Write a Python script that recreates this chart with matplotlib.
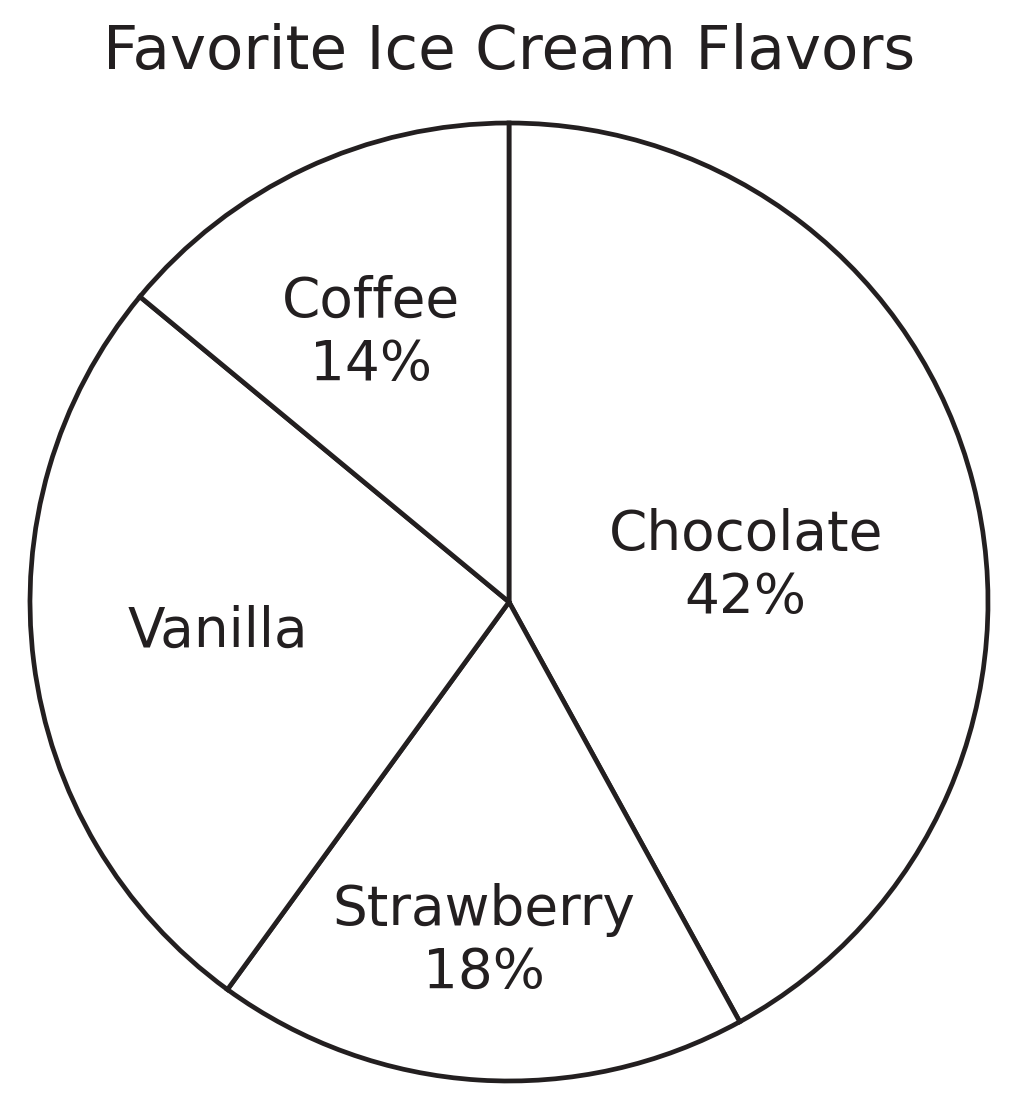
import numpy as np
import matplotlib
matplotlib.use("Agg")
import matplotlib.pyplot as plt

# 円グラフのデータ（時計回り、12時から）
flavors = ["Chocolate", "Strawberry", "Vanilla", "Coffee"]
shares = [42, 18, 26, 14]
show_pct = [True, True, False, True]

# ラベルの中心距離（半径比）と角度補正 [deg]
label_dist = [0.50, 0.71, 0.61, 0.63]
label_shift = [-5.8, -0.6, -1.3, 2.1]

plt.rcParams["font.family"] = ["DejaVu Sans"]

fig = plt.figure(figsize=(10.12, 11.06), dpi=100)
ax = fig.add_axes([0.0, 0.0, 1.0, 1.0])

wedges, _ = ax.pie(
    shares,
    startangle=90,
    counterclock=False,
    colors=["white"] * len(shares),
    wedgeprops=dict(edgecolor="#231f20", linewidth=3.4),
    radius=1.0,
    center=(0.0, 0.0),
)

for w, name, pct, flag, d, s in zip(wedges, flavors, shares, show_pct, label_dist, label_shift):
    mid = np.deg2rad((w.theta1 + w.theta2) / 2 + s)
    x, y = d * np.cos(mid), d * np.sin(mid)
    txt = f"{name}\n{pct}%" if flag else name
    ax.text(x, y, txt, ha="center", va="center", fontsize=39.5,
            color="#231f20", linespacing=1.22)

# 画像座標: 中心 (509, 602), 半径 479 px
r_px = 479.0
cx, cy = 509.0, 602.0
W, H = 1012.0, 1106.0
ax.set_xlim(-cx / r_px, (W - cx) / r_px)
ax.set_ylim(-(H - cy) / r_px, cy / r_px)
ax.set_aspect("auto")
ax.axis("off")

fig.text(509 / W, 1 - 53 / H, "Favorite Ice Cream Flavors", ha="center", va="center",
         fontsize=44, color="#231f20")

fig.savefig("out.png", dpi=100, facecolor="white")
